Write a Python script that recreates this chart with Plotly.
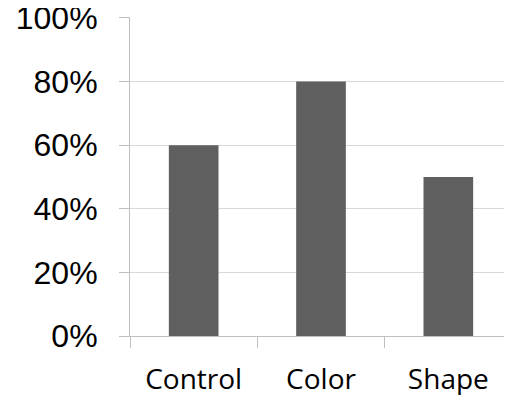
import plotly.graph_objects as go

categories = ["Control", "Color", "Shape"]
values = [60, 80, 50]
y_ticks = [0, 20, 40, 60, 80, 100]
y_tick_labels = ["0%", "20%", "40%", "60%", "80%", "100%"]

fig = go.Figure(go.Bar(x=categories, y=values, marker=dict(color="#5f5f5f", line=dict(width=0)), width=0.39))

# page body has an 8px default margin, so the figure is offset by (8, 8)
fig.update_layout(
    width=504, height=387,
    margin=dict(l=122, r=0, t=9, b=59),
    plot_bgcolor="white", paper_bgcolor="white",
    showlegend=False,
)
fig.update_yaxes(
    range=[0, 100.3], tickvals=y_ticks, ticktext=y_tick_labels,
    showgrid=True, gridcolor="#d9d9d9", gridwidth=1,
    showline=True, linecolor="#bfbfbf", linewidth=1,
    ticks="outside", ticklen=10, tickcolor="#bfbfbf",
    ticklabelstandoff=15, ticklabeloverflow="allow",
    automargin=False,
    tickfont=dict(family="Liberation Sans, Arial", size=32, color="#000000"),
    zeroline=False,
)
fig.update_xaxes(
    showline=True, linecolor="#bfbfbf", linewidth=1,
    ticks="outside", ticklen=11, tickcolor="#bfbfbf", tickson="boundaries",
    ticklabelstandoff=18, ticklabeloverflow="allow",
    automargin=False,
    tickfont=dict(family="Open Sans", size=28, color="#000000"),
)
fig.write_html("out.html")
